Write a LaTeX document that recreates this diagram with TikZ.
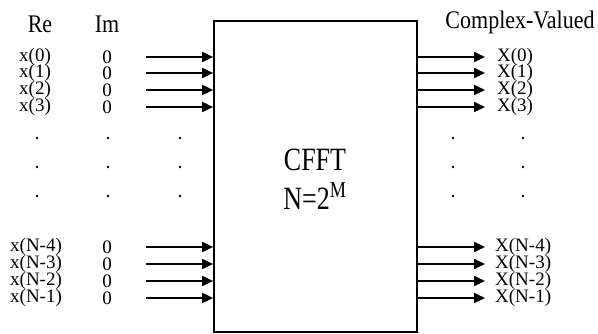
\documentclass[tikz,border=0pt]{standalone}
\usepackage{fontspec}
\setmainfont{Liberation Serif}
\usetikzlibrary{arrows.meta}
\newcommand{\vstr}[2]{\scalebox{1}[#1]{#2}}
\begin{document}
\begin{tikzpicture}[x=1pt,y=-1pt,
  arr/.style={line width=1.7pt,-{Triangle[length=11pt,width=10pt]}},
  lab/.style={inner sep=0pt,font=\fontsize{19}{19}\selectfont},
  hdr/.style={inner sep=0pt,font=\fontsize{22}{22}\selectfont},
  big/.style={inner sep=0pt,font=\fontsize{26}{26}\selectfont},
  dotnode/.style={circle,fill=black,inner sep=0pt,minimum size=2.6pt}]
\useasboundingbox (0,0) rectangle (598,334);
\node[draw,line width=1.7pt,minimum width=203pt,minimum height=311pt,inner sep=0pt] (box) at (315.5,176.5) {};
\node[big] (t1) at (315,160) {\vstr{1.25}{CFFT}};
\node[big] (t2) at (315,196) {\vstr{1.25}{N=2\textsuperscript{M}}};
\node[hdr] (re) at (40,24) {\vstr{1.15}{Re}};
\node[hdr] (im) at (107,24) {\vstr{1.15}{Im}};
\node[hdr] (cv) at (520,22) {\vstr{1.15}{Complex-Valued}};
% top rows
\foreach \i/\y in {0/57,1/73,2/90,3/107}{
  \node[lab,anchor=west] (xl\i) at (19,\y) {x(\i)};
  \node[lab] (z\i) at (107,\y) {0};
  \coordinate (in\i) at (146,\y);
  \draw[arr] (in\i) -- (in\i -| box.west);
  \coordinate (out\i) at (485,\y);
  \draw[arr] (out\i -| box.east) -- (out\i);
  \node[lab,anchor=west] (Xl\i) at (497,\y) {X(\i)};
}
% bottom rows
\foreach \k/\y in {4/247,3/264,2/281,1/298}{
  \node[lab,anchor=west] (xb\k) at (10,\y) {x(N-\k)};
  \node[lab] (zb\k) at (107,\y) {0};
  \coordinate (inb\k) at (146,\y);
  \draw[arr] (inb\k) -- (inb\k -| box.west);
  \coordinate (outb\k) at (485,\y);
  \draw[arr] (outb\k -| box.east) -- (outb\k);
  \node[lab,anchor=west] (Xb\k) at (495,\y) {X(N-\k)};
}
% dots
\foreach \r/\y in {1/138,2/167,3/196}{
  \foreach \c/\x in {1/37,2/108,3/180,4/453,5/523}{
    \node[dotnode] (d\r\c) at (\x,\y) {};
  }
}
\end{tikzpicture}
\end{document}
